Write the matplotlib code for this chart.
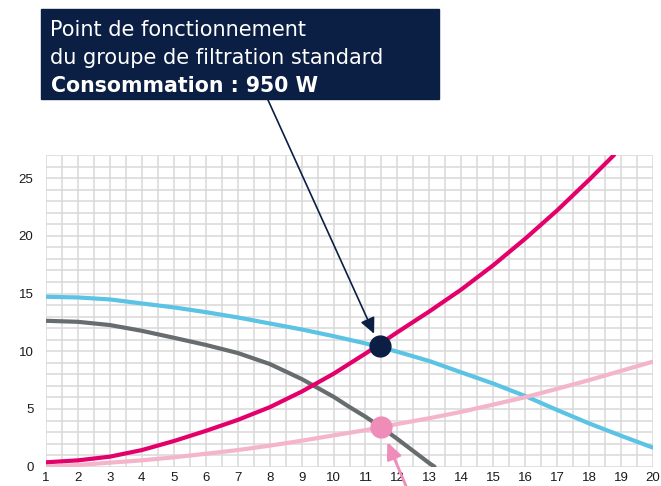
import numpy as np
import matplotlib.pyplot as plt
from matplotlib.patches import Rectangle

# --- data ---
blue_x = [1, 2, 3, 4, 5, 6, 7, 8, 9, 10, 11, 12, 13, 14, 15, 16, 17, 18, 19, 20]
blue_y = [14.72, 14.66, 14.49, 14.14, 13.8, 13.39, 12.93, 12.41, 11.89, 11.31,
          10.68, 9.96, 9.15, 8.17, 7.2, 6.12, 4.91, 3.75, 2.68, 1.65]

gray_x = [1, 2, 3, 4, 5, 6, 7, 8, 9, 10, 10.5, 11, 11.5, 12, 12.5, 13, 13.16]
gray_y = [12.64, 12.55, 12.27, 11.77, 11.17, 10.55, 9.85, 8.9, 7.6, 6.06,
          5.17, 4.33, 3.4, 2.4, 1.35, 0.3, 0.0]

magenta_x = [1, 2, 3, 4, 5, 6, 7, 8, 9, 10, 11, 12, 13, 14, 15, 16, 17, 18, 18.78]
magenta_y = [0.38, 0.55, 0.87, 1.44, 2.22, 3.1, 4.05, 5.15, 6.5, 8.05, 9.8,
             11.65, 13.45, 15.35, 17.45, 19.75, 22.2, 24.85, 27.0]

pink_x = [1, 2, 3, 4, 5, 6, 7, 8, 9, 10, 11, 12, 13, 14, 15, 16, 17, 18, 19, 20]
pink_y = [0.0, 0.15, 0.35, 0.55, 0.81, 1.12, 1.44, 1.82, 2.25, 2.71, 3.17,
          3.7, 4.2, 4.75, 5.38, 6.02, 6.75, 7.5, 8.3, 9.1]

point_main = (11.44, 10.48)
point_alt = (11.48, 3.46)

x_ticks = list(range(1, 21))
y_ticks = [0, 5, 10, 15, 20, 25]

box_lines = ["Point de fonctionnement", "du groupe de filtration standard"]
box_bold = "Consommation : 950 W"

navy = '#0B1F44'

fig = plt.figure(figsize=(6.61, 4.86), dpi=100)
ax = fig.add_axes([46 / 661, 1 - 466.7 / 486, (653 - 46) / 661, (466.7 - 155) / 486])

ax.plot(blue_x, blue_y, color='#5BC3E3', lw=3, solid_capstyle='round', zorder=3)
ax.plot(gray_x, gray_y, color='#676C6F', lw=3, solid_capstyle='round', zorder=3)
ax.plot(pink_x, pink_y, color='#F4B5CA', lw=3, solid_capstyle='round', zorder=3)
ax.plot(magenta_x, magenta_y, color='#E4006B', lw=3, solid_capstyle='round', zorder=4)

ax.plot(*point_main, 'o', ms=15, color=navy, zorder=6)
ax.plot(*point_alt, 'o', ms=15, color='#EF8DB8', zorder=6)

ax.set_xlim(1, 20)
ax.set_ylim(0, 27)
ax.set_xticks(x_ticks)
ax.set_yticks(y_ticks)
ax.set_xticks(np.arange(1, 20.01, 0.5), minor=True)
ax.set_yticks(np.arange(0, 27.01, 1), minor=True)
ax.grid(True, which='both', color='#d9d9d9', lw=1.1)
ax.set_axisbelow(True)
ax.tick_params(which='both', length=0)
ax.tick_params(axis='x', pad=3.5)
ax.tick_params(axis='y', pad=9)
for lbl in ax.get_xticklabels() + ax.get_yticklabels():
    lbl.set_fontfamily('Liberation Sans')
    lbl.set_fontsize(9.5)
    lbl.set_color('#1a1a1a')
for s in ax.spines.values():
    s.set_visible(False)

# annotation box
fig.patches.append(Rectangle((41 / 661, 1 - 99.3 / 486), 398 / 661, 90 / 486,
                             transform=fig.transFigure, color=navy, zorder=1))
fig.text(50 / 661, 1 - 36 / 486, box_lines[0], color='white', fontsize=15,
         family='DejaVu Sans', va='baseline', zorder=2)
fig.text(50 / 661, 1 - 64 / 486, box_lines[1], color='white', fontsize=15,
         family='DejaVu Sans', va='baseline', zorder=2)
fig.text(51 / 661, 1 - 92 / 486, box_bold, color='white', fontsize=14.8,
         family='DejaVu Sans', weight='bold', va='baseline', zorder=2)

ax.annotate('', xy=point_main, xytext=(268, 486 - 100), textcoords='figure pixels',
            arrowprops=dict(arrowstyle='-|>,head_length=0.95,head_width=0.45',
                            color=navy, lw=1.2, shrinkA=0, shrinkB=9.5),
            annotation_clip=False, zorder=5)
ax.annotate('', xy=point_alt, xytext=(412, -14), textcoords='figure pixels',
            arrowprops=dict(arrowstyle='-|>,head_length=1.0,head_width=0.45',
                            color='#F08CB9', lw=2, shrinkA=0, shrinkB=12),
            annotation_clip=False, zorder=5)

fig.savefig('out.png', dpi=100)
